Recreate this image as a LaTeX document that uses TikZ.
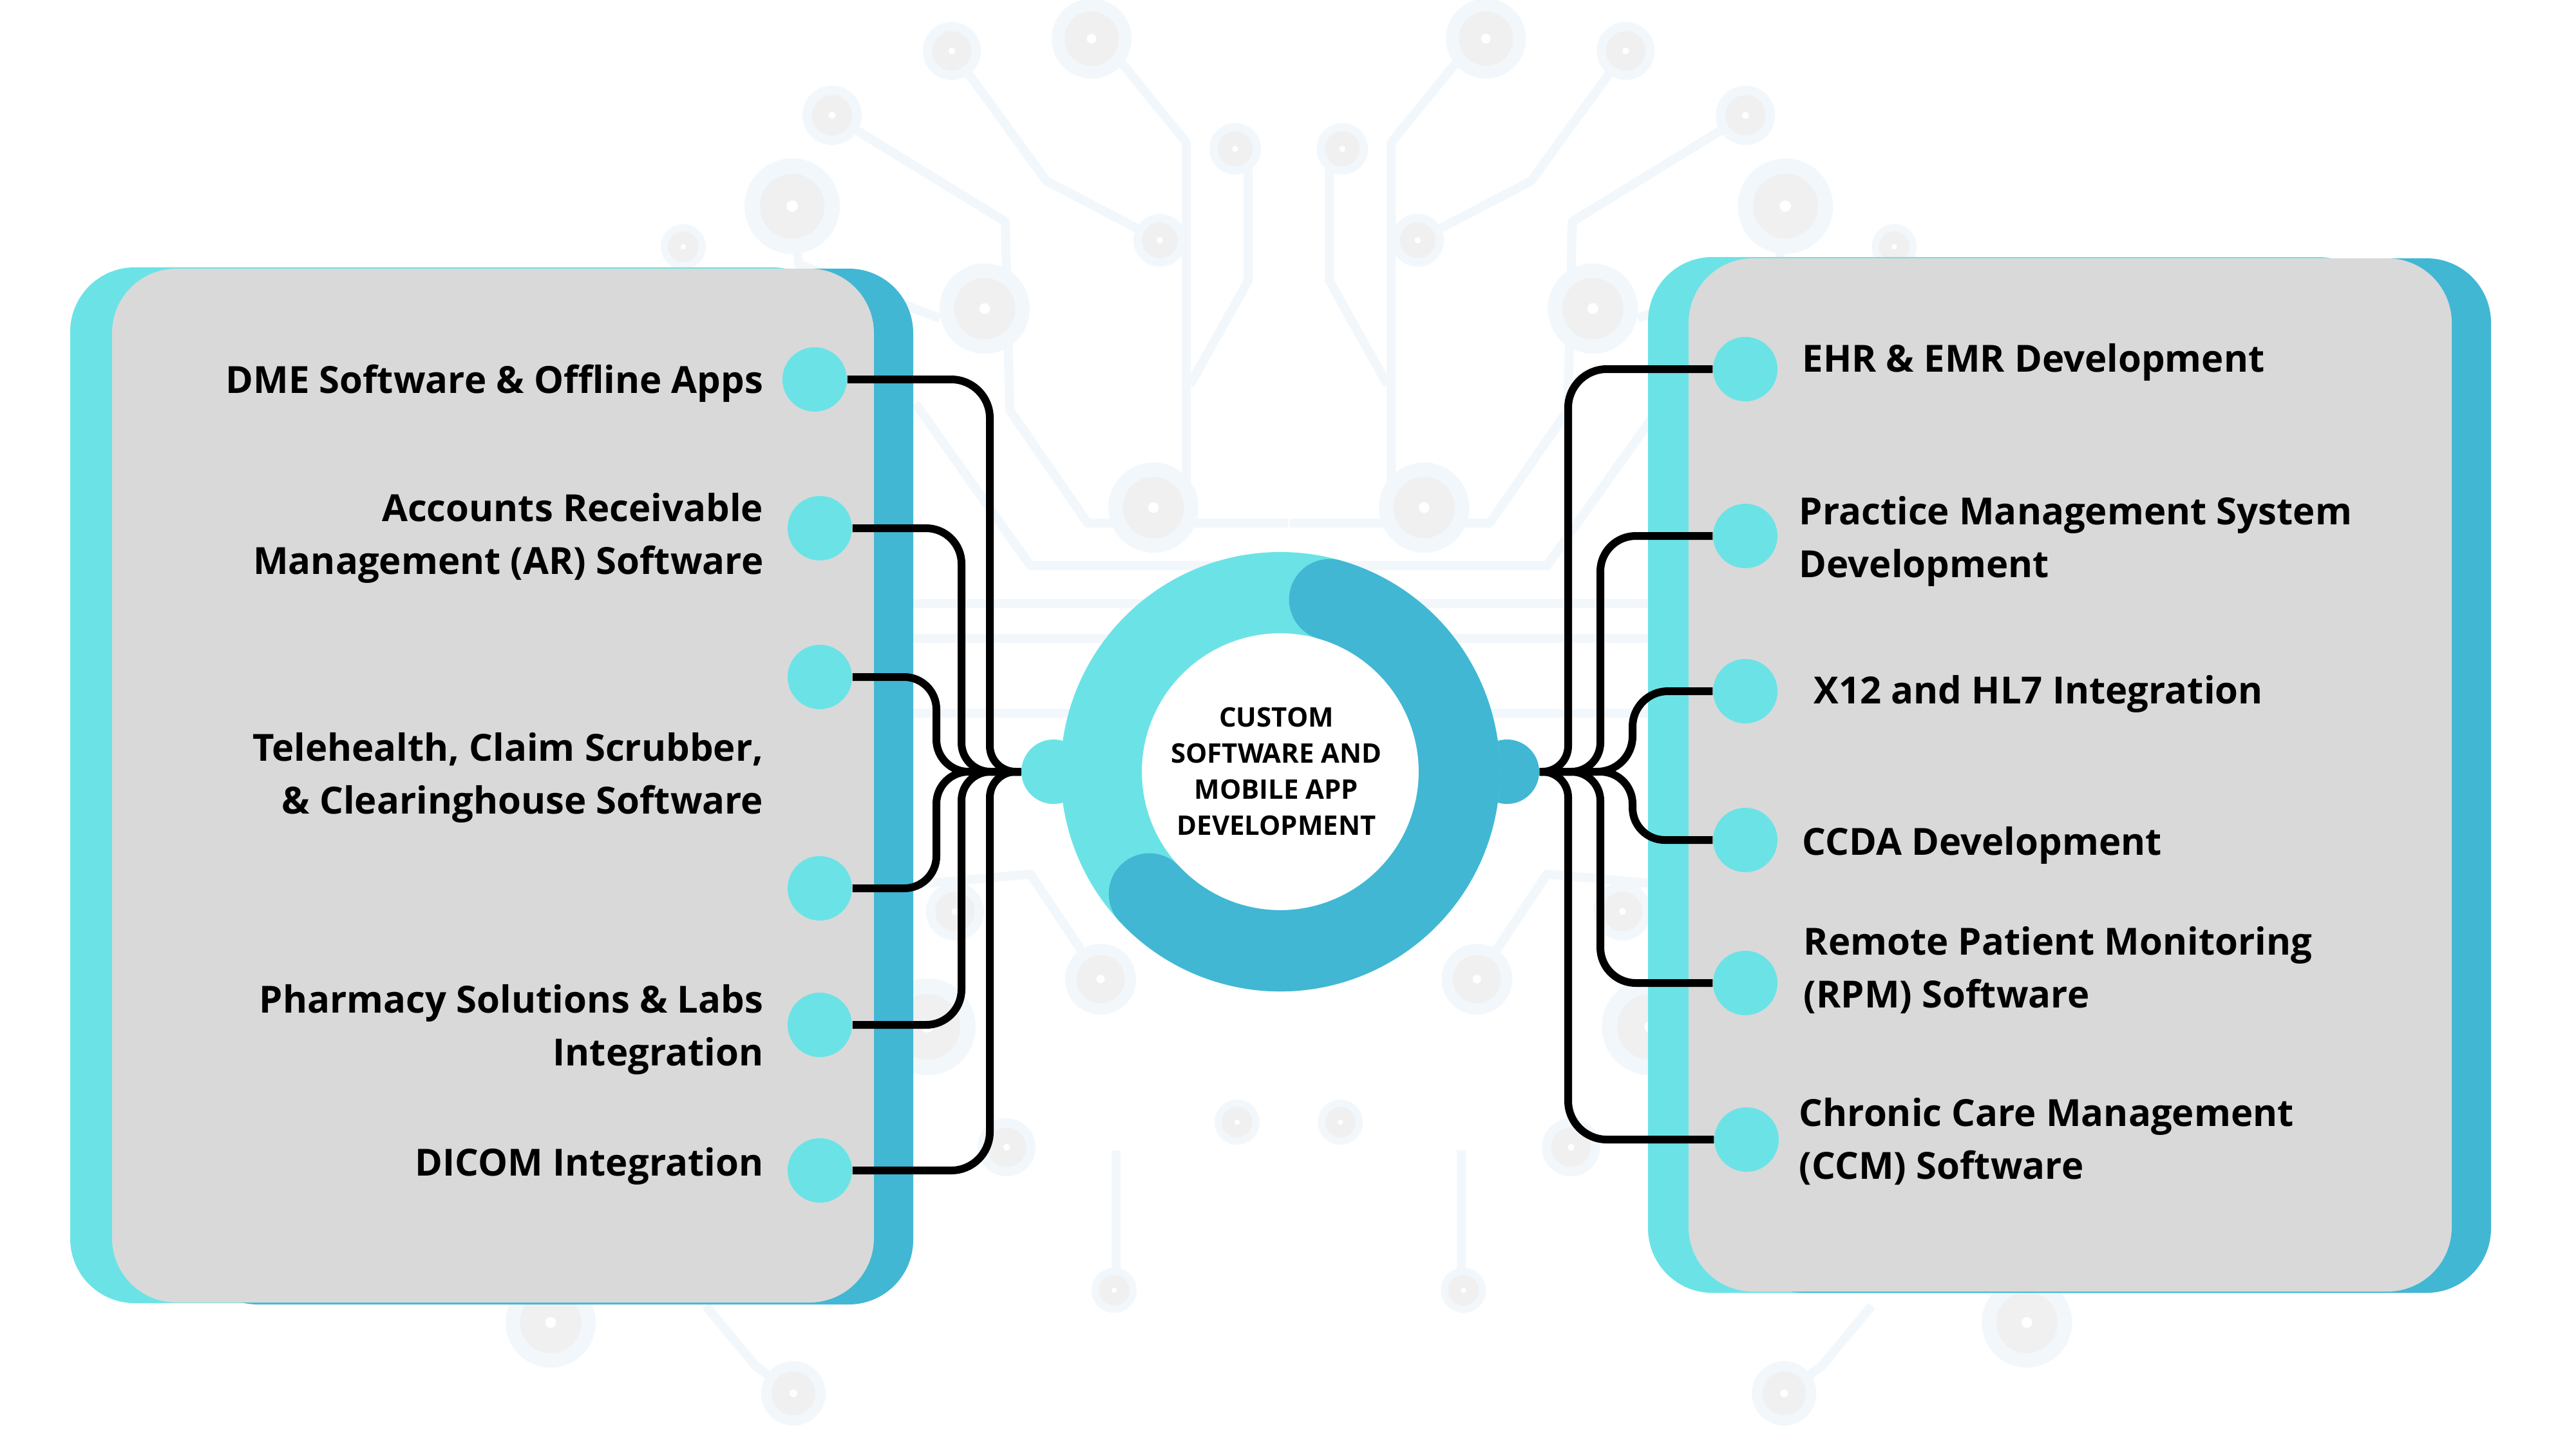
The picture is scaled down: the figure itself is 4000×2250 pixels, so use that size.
\documentclass[tikz,border=0pt]{standalone}
\usepackage{fontspec}
\setmainfont{Open Sans}
\definecolor{cyanc}{HTML}{6BE3E6}
\definecolor{bluec}{HTML}{41B7D4}
\definecolor{grayc}{HTML}{D9D9D9}
\definecolor{bgline}{HTML}{F2F7FB}
\definecolor{bgdisk}{HTML}{F0F0F0}
\newcommand\bgnodeat[3]{%
  \fill[bgline] ({#1},{-#2}) circle[radius=#3];
  \fill[bgdisk] ({#1},{-#2}) circle[radius={0.68*#3}];
  \fill[white] ({#1},{-#2}) circle[radius={0.12*#3}];}
\newcommand\bghalf{%
  \draw[bgl] (1478,-79) -- (1625,-281) -- (1801,-373);
  \draw[bgl] (1695,-60) -- (1746,-103) -- (1842,-221) -- (1842,-812);
  \draw[bgl] (1918,-231) -- (1938,-264) -- (1938,-436) -- (1848,-597);
  \draw[bgl] (1292,-179) -- (1561,-344) -- (1568,-637) -- (1689,-812) -- (2000,-812);
  \draw[bgl] (1421,-626) -- (1600,-878) -- (2000,-878);
  \draw[bgl] (1400,-937) -- (2000,-937);
  \draw[bgl] (1400,-991) -- (2000,-991);
  \draw[bgl] (1400,-1107) -- (2000,-1107);
  \draw[bgl] (1230,-320) -- (1240,-410) -- (1459,-494);
  \draw[bgl] (1400,-1375) -- (1600,-1357) -- (1709,-1520);
  \draw[bgl] (1733,-1786) -- (1733,-2003);
  \draw[bgl] (1096,-2027) -- (1173,-2120) -- (1232,-2163);
  \bgnodeat{1695}{60}{62}\bgnodeat{1478}{79}{45}\bgnodeat{1292}{179}{46}
  \bgnodeat{1230}{320}{74}\bgnodeat{1061}{383}{35}\bgnodeat{1529}{479}{70}
  \bgnodeat{1801}{373}{41}\bgnodeat{1918}{231}{40}\bgnodeat{1791}{788}{70}
  \bgnodeat{1709}{1520}{55}\bgnodeat{1921}{1742}{35}\bgnodeat{1730}{2003}{35}
  \bgnodeat{1232}{2163}{50}\bgnodeat{855}{2053}{70}\bgnodeat{1483}{1415}{45}
  \bgnodeat{1440}{1594}{75}\bgnodeat{1563}{1781}{45}}
% connectors: node, y, vertical x, corner r, hub corner r
\newcommand\connLU[5]{\draw[conn] (#1.east) -- ({#3-#4},{-#2}) arc[start angle=90,end angle=0,radius=#4] -- (#3,{-1198+#5}) arc[start angle=180,end angle=270,radius=#5] -- (lhub.west);}
\newcommand\connLD[5]{\draw[conn] (#1.east) -- ({#3-#4},{-#2}) arc[start angle=-90,end angle=0,radius=#4] -- (#3,{-1198-#5}) arc[start angle=180,end angle=90,radius=#5] -- (lhub.west);}
\newcommand\connRU[5]{\draw[conn] (rhub.east) -- ({#3-#5},-1198) arc[start angle=-90,end angle=0,radius=#5] -- (#3,{-#2-#4}) arc[start angle=180,end angle=90,radius=#4] -- (#1.west);}
\newcommand\connRD[5]{\draw[conn] (rhub.east) -- ({#3-#5},-1198) arc[start angle=90,end angle=0,radius=#5] -- (#3,{-#2+#4}) arc[start angle=180,end angle=270,radius=#4] -- (#1.west);}
\begin{document}
\begin{tikzpicture}[x=0.01cm,y=0.01cm,
  bgl/.style={draw=bgline,line width=0.14cm,line join=round},
  dot/.style={circle,fill=cyanc,minimum size=1cm,inner sep=0pt},
  conn/.style={draw=black,line width=0.12cm},
  lbl/.style={font=\bfseries\fontsize{16.5}{23.3}\selectfont,inner sep=0pt,text height=0.42cm,text depth=0pt},
  llbl/.style={lbl,align=right,anchor=east},
  rlbl/.style={lbl,align=left,anchor=west}]
\useasboundingbox (0,0) rectangle (4000,-2250);
\fill[white] (0,0) rectangle (4000,-2250);
% background circuit
\bghalf
\begin{scope}[xshift=40cm,xscale=-1]\bghalf\end{scope}
% left box
\fill[cyanc,rounded corners=1cm] (109,-415) rectangle (1300,-2023);
\fill[bluec,rounded corners=1cm] (300,-417) rectangle (1418,-2025);
\fill[grayc,rounded corners=1cm] (174,-417) rectangle (1357,-2022);
% right box
\fill[cyanc,rounded corners=1cm] (2559,-399) rectangle (3700,-2007);
\fill[bluec,rounded corners=1cm] (2700,-401) rectangle (3868,-2007);
\fill[grayc,rounded corners=1cm] (2622,-401) rectangle (3807,-2005);
% hub tabs
\node[circle,fill=cyanc,minimum size=1cm,inner sep=0pt] (lhub) at (1636,-1198) {};
\node[circle,fill=bluec,minimum size=1cm,inner sep=0pt] (rhub) at (2340,-1198) {};
% ring
\fill[white] (1988,-1198) circle[radius=215];
\draw[cyanc,line width=1.26cm] (1988,-1198) circle[radius=278];
\draw[bluec,line width=1.26cm,line cap=round] (1988,-1198) ++(74:278) arc[start angle=74,end angle=-137,radius=278];
\node[font=\bfseries\fontsize{11.9}{15.9}\selectfont,align=center,inner sep=0pt,text height=0.3cm,text depth=0pt] (core) at (1982,-1281) {CUSTOM\\SOFTWARE AND\\MOBILE APP\\DEVELOPMENT};
% bullets
\node[dot] (L1) at (1265,-589) {};
\node[dot] (L2) at (1273,-820) {};
\node[dot] (L3) at (1273,-1051) {};
\node[dot] (L4) at (1273,-1379) {};
\node[dot] (L5) at (1273,-1591) {};
\node[dot] (L6) at (1273,-1817) {};
\node[dot] (R1) at (2710,-573) {};
\node[dot] (R2) at (2710,-832) {};
\node[dot] (R3) at (2710,-1073) {};
\node[dot] (R4) at (2710,-1304) {};
\node[dot] (R5) at (2710,-1526) {};
\node[dot] (R6) at (2712,-1769) {};
% connectors
\connLU{L1}{589}{1537}{60}{40}
\connLU{L2}{820}{1493}{55}{45}
\connLU{L3}{1051}{1454}{50}{50}
\connLD{L4}{1379}{1454}{50}{50}
\connLD{L5}{1591}{1493}{55}{45}
\connLD{L6}{1817}{1537}{60}{40}
\connRU{R1}{573}{2435}{60}{40}
\connRU{R2}{832}{2485}{55}{45}
\connRU{R3}{1073}{2535}{55}{55}
\connRD{R4}{1304}{2535}{50}{50}
\connRD{R5}{1526}{2485}{55}{45}
\connRD{R6}{1769}{2435}{60}{40}
% labels (multi-line nodes are placed by their last line)
\node[llbl] (tL1) at (1186,-589) {DME Software \& Offline Apps};
\node[llbl] (tL2) at (1186,-870) {Accounts Receivable\\Management (AR) Software};
\node[llbl] (tL3) at (1186,-1242) {Telehealth, Claim Scrubber,\\\& Clearinghouse Software};
\node[llbl] (tL5) at (1186,-1633) {Pharmacy Solutions \& Labs\\Integration};
\node[llbl] (tL6) at (1186,-1804) {DICOM Integration};
\node[rlbl] (tR1) at (2798,-556) {EHR \& EMR Development};
\node[rlbl] (tR2) at (2793,-875) {Practice Management System\\Development};
\node[rlbl] (tR3) at (2816,-1071) {X12 and HL7 Integration};
\node[rlbl] (tR4) at (2798,-1306) {CCDA Development};
\node[rlbl] (tR5) at (2800,-1543) {Remote Patient Monitoring\\(RPM) Software};
\node[rlbl] (tR6) at (2793,-1809) {Chronic Care Management\\(CCM) Software};
\end{tikzpicture}
\end{document}
